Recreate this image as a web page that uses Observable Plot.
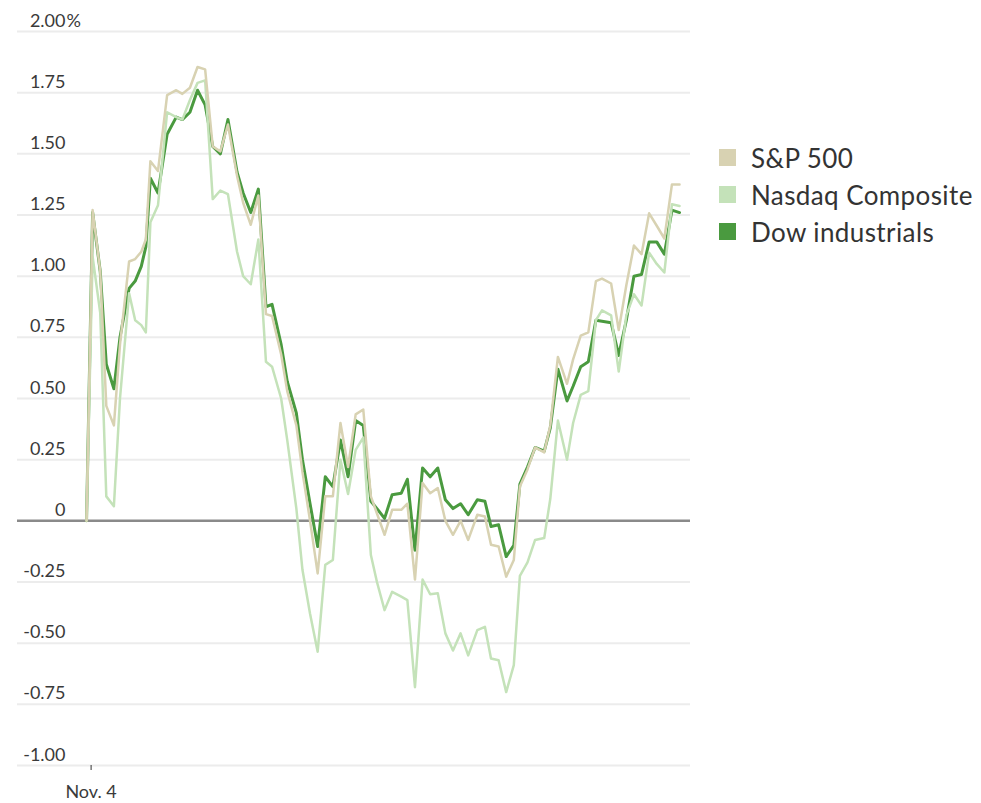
<!DOCTYPE html>
<html>
<head>
<meta charset="utf-8">
<script src="https://cdn.jsdelivr.net/npm/d3@7"></script>
<script src="https://cdn.jsdelivr.net/npm/@observablehq/plot@0.6"></script>
<style>
  html, body { margin: 0; padding: 0; background: #fff; }
  #wrap { position: relative; width: 981px; height: 803px; font-family: Lato, "Open Sans", sans-serif; }
  #legend { position: absolute; left: 719px; top: 139px; }
  .row { display: flex; align-items: center; height: 37px; font-size: 26px; letter-spacing: 0.4px; color: #333; white-space: nowrap; }
  .sw { width: 17px; height: 17px; margin-right: 15px; }
</style>
</head>
<body>
<div id="wrap"><div id="legend"></div></div>
<script>
// Minutes after the 9:30 open
const minutes = [0,4,9,13,18,22,28,32,36,39,42,47,53,59,63,68,73,78,83,88,93,99,103,108,113,118,122,128,132,138,142,147,152,157,162,167,172,177,182,187,191,196,201,207,211,216,221,226,231,236,241,246,251,257,262,266,271,276,281,285,290,295,301,305,310,316,320,325,330,335,339,345,350,355,360,365,370,375,380,385,390];

// Percent change from previous close
const sp500 = [0,1.27,1.02,0.47,0.39,0.72,1.06,1.07,1.10,1.15,
  1.47,1.43,1.74,1.76,1.745,1.77,1.855,1.845,1.53,1.51,
  1.62,1.41,1.30,1.21,1.33,0.845,0.837,0.68,0.53,0.39,
  0.20,0.00,-0.215,0.10,0.10,0.40,0.22,0.435,0.455,0.10,
  0.03,-0.057,0.045,0.045,0.07,-0.24,0.155,0.113,0.134,0.0,
  -0.057,0.0,-0.078,0.025,0.018,-0.098,-0.105,-0.228,-0.16,0.14,
  0.21,0.30,0.28,0.39,0.67,0.56,0.66,0.757,0.77,0.98,
  0.99,0.97,0.78,0.963,1.125,1.09,1.257,1.206,1.154,1.375,
  1.375];

const nasdaq = [0,1.08,0.85,0.10,0.06,0.5,0.93,0.82,0.80,0.77,
  1.22,1.29,1.67,1.65,1.64,1.72,1.79,1.80,1.315,1.35,
  1.335,1.10,1.0,0.967,1.15,0.65,0.63,0.5,0.33,0.05,
  -0.2,-0.38,-0.535,-0.18,-0.16,0.25,0.11,0.29,0.34,-0.14,
  -0.25,-0.365,-0.29,-0.31,-0.324,-0.68,-0.24,-0.30,-0.296,-0.46,
  -0.53,-0.46,-0.55,-0.447,-0.433,-0.563,-0.57,-0.70,-0.59,-0.225,
  -0.17,-0.078,-0.07,0.09,0.41,0.25,0.40,0.515,0.53,0.82,
  0.86,0.84,0.61,0.84,0.926,0.88,1.096,1.05,1.015,1.294,
  1.287];

const dow = [0,1.26,1.02,0.64,0.54,0.75,0.95,0.98,1.04,1.12,
  1.40,1.34,1.58,1.65,1.64,1.67,1.76,1.70,1.53,1.50,
  1.64,1.425,1.34,1.26,1.356,0.875,0.885,0.72,0.57,0.44,
  0.25,0.07,-0.105,0.18,0.14,0.33,0.18,0.41,0.39,0.08,
  0.05,0.01,0.107,0.113,0.17,-0.12,0.216,0.18,0.216,0.086,
  0.05,0.07,0.025,0.086,0.08,-0.023,-0.016,-0.146,-0.10,0.15,
  0.22,0.30,0.285,0.38,0.62,0.49,0.55,0.63,0.65,0.82,
  0.816,0.81,0.676,0.82,1.0,1.007,1.14,1.14,1.09,1.27,
  1.26];

const seriesNames = ["S&P 500", "Nasdaq Composite", "Dow industrials"];
const seriesColors = ["#d8d2b2", "#c4e2b9", "#4a9a3f"];
const yTicks = [-1, -0.75, -0.5, -0.25, 0, 0.25, 0.5, 0.75, 1, 1.25, 1.5, 1.75, 2];
const xTickMinute = [3];
const xTickLabels = ["Nov. 4"];

const rows = (vals, name) => vals.map((v, i) => ({t: minutes[i], v, s: name}));
const spRows = rows(sp500, seriesNames[0]);
const nqRows = rows(nasdaq, seriesNames[1]);
const djRows = rows(dow, seriesNames[2]);

const fmt = d => d === 0 ? "0" : (d < 0 ? "-" : "") + Math.abs(d).toFixed(2);
const labelStyle = {fontSize: 18, fill: "#3a3a3a", letterSpacing: "0.6px"};

const chart = Plot.plot({
  width: 981,
  height: 803,
  marginLeft: 17,
  marginRight: 291,
  marginTop: 31,
  marginBottom: 38,
  x: {domain: [-45.4, 397.2], axis: null, label: null},
  y: {domain: [-1, 2], axis: null, label: null},
  style: {fontFamily: "Lato, 'Open Sans', sans-serif", background: "#fff", overflow: "visible"},
  marks: [
    Plot.ruleY(yTicks.filter(d => d !== 0), {stroke: "#ececec", strokeWidth: 2}),
    Plot.text(yTicks, {y: d => d, text: fmt, frameAnchor: "left", dx: 48, dy: -5, textAnchor: "end", lineAnchor: "bottom", ...labelStyle}),
    Plot.text([2], {y: d => d, text: () => "%", frameAnchor: "left", dx: 49, dy: -5, textAnchor: "start", lineAnchor: "bottom", ...labelStyle}),
    Plot.ruleY([0], {stroke: "#8a8a8a", strokeWidth: 2.5}),
    Plot.line(djRows, {x: "t", y: "v", stroke: seriesColors[2], strokeWidth: 3}),
    Plot.line(nqRows, {x: "t", y: "v", stroke: seriesColors[1], strokeWidth: 2.5}),
    Plot.line(spRows, {x: "t", y: "v", stroke: seriesColors[0], strokeWidth: 2.5}),
    Plot.axisX(xTickMinute, {tickFormat: (d, i) => xTickLabels[i], label: null, tickSize: 5, tickPadding: 15, fontSize: 18, color: "#3a3a3a", stroke: "#333"})
  ]
});

document.getElementById("wrap").prepend(chart);

const legend = document.getElementById("legend");
seriesNames.forEach((n, i) => {
  const r = document.createElement("div");
  r.className = "row";
  const sw = document.createElement("div");
  sw.className = "sw";
  sw.style.background = seriesColors[i];
  const t = document.createElement("span");
  t.textContent = n;
  r.appendChild(sw);
  r.appendChild(t);
  legend.appendChild(r);
});
</script>
</body>
</html>
